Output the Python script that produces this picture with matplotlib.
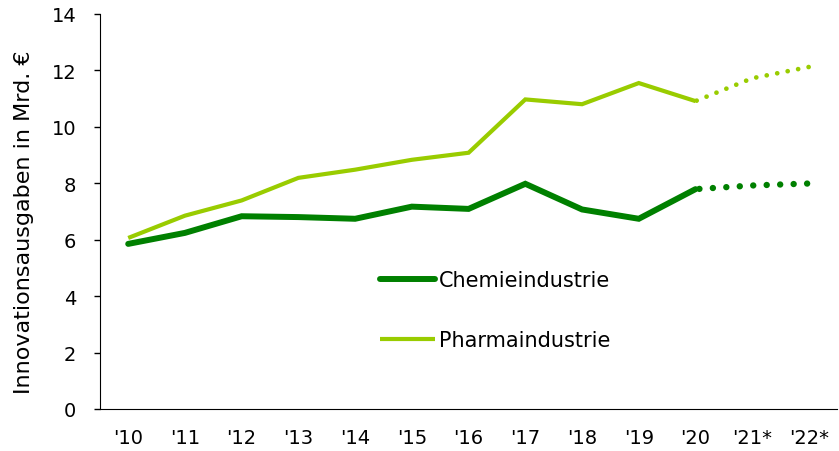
import matplotlib.pyplot as plt

years = ["'10", "'11", "'12", "'13", "'14", "'15", "'16", "'17", "'18", "'19", "'20", "'21*", "'22*"]
chemie = [5.85, 6.24, 6.83, 6.80, 6.74, 7.17, 7.09, 7.98, 7.07, 6.74, 7.79, 7.92, 7.99]
pharma = [6.06, 6.85, 7.39, 8.19, 8.48, 8.83, 9.08, 10.97, 10.80, 11.55, 10.91, 11.72, 12.12]

dunkelgruen = '#008000'
hellgruen = '#99cc00'

plt.rcParams['font.family'] = 'DejaVu Sans'

fig = plt.figure(figsize=(8.39, 4.52), dpi=100)
ax = fig.add_axes([0.119, 0.093, 0.879, 0.874])

x = list(range(len(years)))

# Ist-Werte bis '20
ax.plot(x[:11], chemie[:11], color=dunkelgruen, lw=4.3, solid_capstyle='round',
        solid_joinstyle='miter', label='Chemieindustrie')
ax.plot(x[:11], pharma[:11], color=hellgruen, lw=3, solid_capstyle='butt',
        solid_joinstyle='miter', label='Pharmaindustrie')

# Prognose gepunktet
ax.plot(x[10:], chemie[10:], color=dunkelgruen, lw=4.6, linestyle=(1.5, (0.01, 2.1)),
        dash_capstyle='round')
ax.plot(x[10:], pharma[10:], color=hellgruen, lw=3.4, linestyle=(2, (0.01, 2.25)),
        dash_capstyle='round')

ax.set_xlim(-0.5, 12.5)
ax.set_ylim(0, 14)
ax.set_yticks(range(0, 15, 2))
ax.set_xticks(x)
ax.set_xticklabels(years)
ax.tick_params(axis='x', length=0, pad=14, labelsize=14)
ax.tick_params(axis='y', length=4, width=1, pad=13, labelsize=14)
ax.spines['top'].set_visible(False)
ax.spines['right'].set_visible(False)
ax.set_ylabel('Innovationsausgaben in Mrd. €', fontsize=16)
ax.yaxis.set_label_coords(-0.089, 0.476)

ax.legend(loc='center left', bbox_to_anchor=(0.355, 0.25), frameon=False, fontsize=15,
          handlelength=2.6, handletextpad=0.2, labelspacing=1.9)

fig.savefig('out.png', dpi=100)
